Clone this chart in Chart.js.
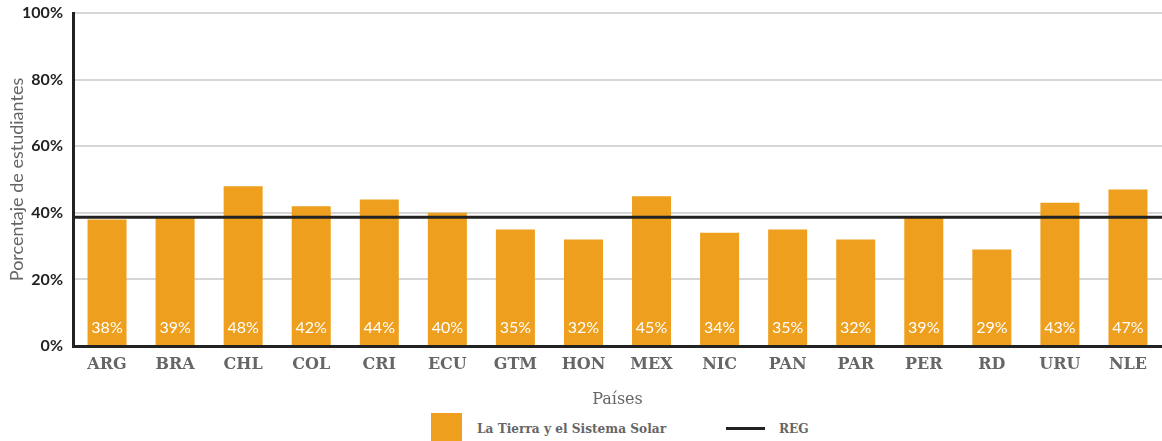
<!DOCTYPE html>
<html>
<head>
<meta charset="utf-8">
<script src="https://cdn.jsdelivr.net/npm/chart.js@4.4.0/dist/chart.umd.min.js"></script>
<style>
  html, body { margin: 0; padding: 0; background: #fff; }
  #wrap { width: 1162px; height: 409px; position: relative; }
  #leyenda { width: 1162px; height: 32px; position: relative; font-family: 'DejaVu Serif Condensed', 'DejaVu Serif', serif; font-weight: bold; font-size: 13.5px; color: #666; }
  #leyenda .caja { position: absolute; left: 431px; top: 4px; width: 31px; height: 28px; background: #EE9F1D; }
  #leyenda .linea { position: absolute; left: 726px; top: 18px; width: 39px; height: 3px; background: #222; }
  #leyenda span { position: absolute; top: 9px; line-height: 20px; }
</style>
</head>
<body>
<div id="wrap"><canvas id="chart"></canvas></div>
<div id="leyenda">
  <div class="caja"></div><span style="left:477px">La Tierra y el Sistema Solar</span>
  <div class="linea"></div><span style="left:779px">REG</span>
</div>
<script>
const paises = ['ARG', 'BRA', 'CHL', 'COL', 'CRI', 'ECU', 'GTM', 'HON', 'MEX', 'NIC', 'PAN', 'PAR', 'PER', 'RD', 'URU', 'NLE'];
const tierraSolar = [38, 39, 48, 42, 44, 40, 35, 32, 45, 34, 35, 32, 39, 29, 43, 47];
const regional = 38.7;
const yTicks = [0, 20, 40, 60, 80, 100];

// etiquetas blancas al pie de cada barra
const etiquetasBarras = {
  id: 'etiquetasBarras',
  afterDatasetsDraw(chart) {
    const ctx = chart.ctx;
    const meta = chart.getDatasetMeta(0);
    ctx.save();
    ctx.fillStyle = '#fff';
    ctx.font = '16px Lato';
    ctx.textAlign = 'center';
    ctx.textBaseline = 'middle';
    meta.data.forEach((bar, i) => {
      ctx.fillText(tierraSolar[i] + '%', bar.x, chart.scales.y.bottom - 18);
    });
    ctx.restore();
  }
};

new Chart(document.getElementById('chart'), {
  type: 'bar',
  data: {
    labels: paises,
    datasets: [
      {
        type: 'bar',
        label: 'La Tierra y el Sistema Solar',
        data: tierraSolar,
        backgroundColor: '#EE9F1D',
        categoryPercentage: 0.573,
        barPercentage: 1,
        grouped: false,
        order: 2
      },
      {
        type: 'line',
        label: 'REG',
        xAxisID: 'x2',
        data: [{ x: 0, y: regional }, { x: 1, y: regional }],
        borderColor: '#222',
        borderWidth: 3,
        pointRadius: 0,
        order: 1
      }
    ]
  },
  options: {
    responsive: true,
    maintainAspectRatio: false,
    animation: false,
    layout: { padding: { top: 0, right: 0, bottom: 0, left: 0 } },
    plugins: {
      legend: { display: false },
      tooltip: { enabled: false }
    },
    scales: {
      x: {
        grid: { display: false },
        border: { color: '#222', width: 3 },
        afterFit(scale) { scale.height = 63; },
        ticks: {
          color: '#666',
          font: { family: 'DejaVu Serif', weight: 'bold', size: 16 },
          padding: 1
        },
        title: {
          display: true,
          text: 'Países',
          color: '#666',
          font: { family: 'DejaVu Serif', size: 16 },
          padding: { top: 14, bottom: 0 }
        }
      },
      x2: {
        type: 'linear',
        display: false,
        offset: false,
        min: 0,
        max: 1
      },
      y: {
        min: 0,
        max: 100,
        afterBuildTicks(axis) {
          axis.ticks = yTicks.map(v => ({ value: v }));
        },
        afterFit(scale) {
          scale.width = 73;
          scale.paddingTop = 13;
        },
        grid: { color: '#d6d6d6', lineWidth: 2, drawTicks: false },
        border: { color: '#222', width: 3 },
        ticks: {
          color: '#222',
          padding: 10,
          font: { family: 'Lato', weight: 'bold', size: 16 },
          callback: v => v + '%'
        },
        title: {
          display: true,
          text: 'Porcentaje de estudiantes',
          color: '#666',
          font: { family: 'Lato', size: 18 },
          padding: { top: 6, bottom: 0 }
        }
      }
    }
  },
  plugins: [etiquetasBarras]
});
</script>
</body>
</html>
